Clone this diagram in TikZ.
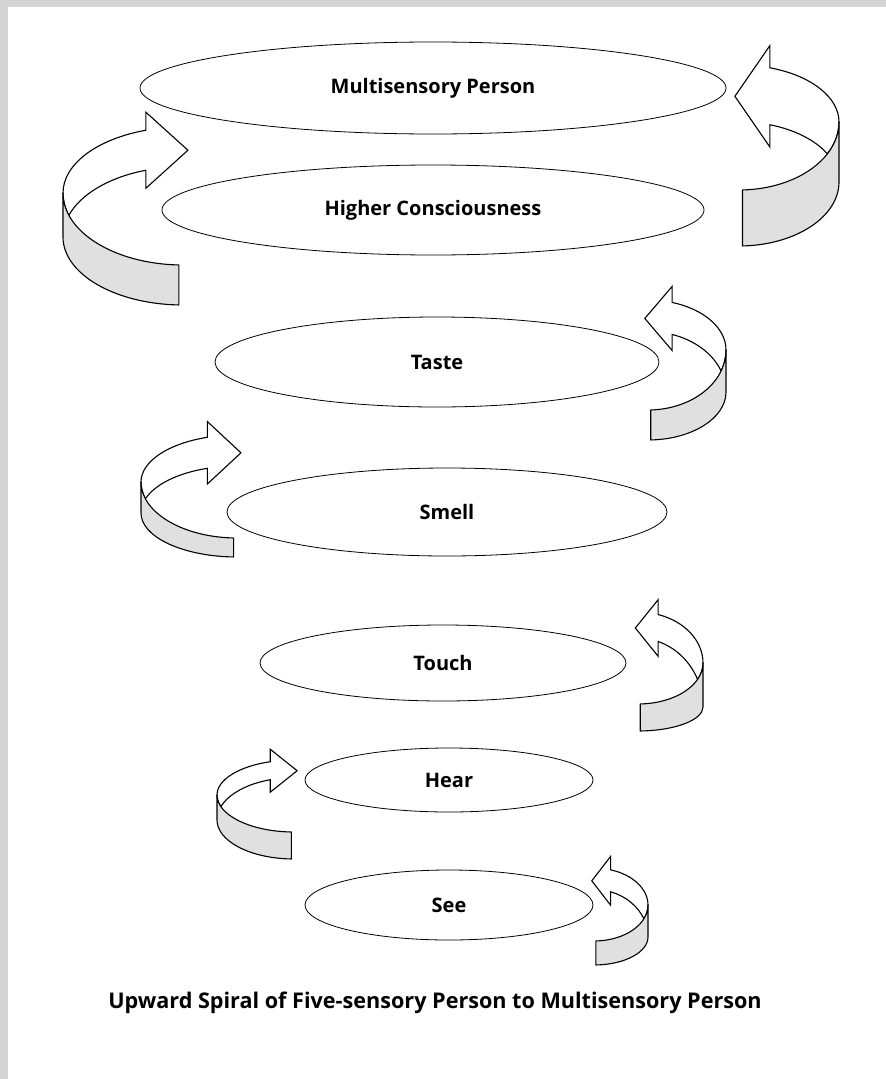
\documentclass[tikz,border=0pt]{standalone}
\usepackage{fontspec}
\setmainfont{Open Sans}
\usepackage{tikz}
\usetikzlibrary{shapes,positioning}
\usepackage{xcolor}

\definecolor{framegray}{RGB}{212,212,212}
\definecolor{bandgray}{RGB}{224,224,224}

% one turn of the spiral: x, y of the outer edge, side, radius, back, front, band, neck, end
\newcommand{\spiralarrow}[9]{%
  \begin{scope}[shift={(#1,#2)}, xscale=#3]
    \pgfmathsetmacro{\spra}{#4}
    \pgfmathsetmacro{\spbk}{#5}
    \pgfmathsetmacro{\spfr}{#6}
    \pgfmathsetmacro{\spbl}{#5+(#7-#8)/sin(108)}
    \pgfmathsetmacro{\spfl}{#6-(#7-#9)}
    \pgfmathsetmacro{\spcut}{180-asin(#7/(#6+\spbl))}
    \pgfmathsetmacro{\spnx}{#4+#4*cos(108)}
    \pgfmathsetmacro{\spnu}{#5*sin(108)}
    \pgfmathsetmacro{\spnl}{\spnu-#8}
    \pgfmathsetmacro{\spbarb}{0.25*#8+8}
    \pgfmathsetmacro{\sptip}{0.35*#4}
    % back of the band and the head
    \draw[bandback] (0,0) arc[start angle=180, end angle=108, x radius=\spra, y radius=\spbk]
      -- (\spnx,\spnu+\spbarb) -- (\spnx+\sptip,{(\spnu+\spnl)/2})
      -- (\spnx,\spnl-\spbarb) -- (\spnx,\spnl)
      arc[start angle=108, end angle=\spcut, x radius=\spra, y radius=\spbl]
      arc[start angle=360-\spcut, end angle=180, x radius=\spra, y radius=\spfr] -- cycle;
    % front of the band
    \draw[bandfront] (0,0) arc[start angle=180, end angle=268, x radius=\spra, y radius=\spfr]
      -- ++(0,-#9) arc[start angle=268, end angle=180, x radius=\spra, y radius=\spfl] -- cycle;
  \end{scope}}

\begin{document}
\begin{tikzpicture}[
    x=1pt, y=1pt,
    level/.style={ellipse, draw, line width=0.8pt, inner sep=0pt,
      font=\bfseries\fontsize{20}{24}\selectfont},
    bandback/.style={draw, fill=white, line width=1.1pt, line join=miter},
    bandfront/.style={draw, fill=bandgray, line width=1.1pt, line join=round}
  ]
  \useasboundingbox (0,0) rectangle (886,-1079);
  \fill[white] (0,0) rectangle (886,-1079);
  \fill[framegray] (0,0) rectangle (886,-7);
  \fill[framegray] (0,0) rectangle (8,-1079);

  % Nodes
  \node[level, minimum width=586, minimum height=92] (multi) at (433,-88) {Multisensory Person};
  \node[level, minimum width=542, minimum height=90] (higher) at (433,-210) {Higher Consciousness};
  \node[level, minimum width=444, minimum height=90] (taste) at (437,-362) {Taste};
  \node[level, minimum width=440, minimum height=88] (smell) at (447,-512) {Smell};
  \node[level, minimum width=366, minimum height=76] (touch) at (443,-663) {Touch};
  \node[level, minimum width=288, minimum height=64] (hear) at (449,-780) {Hear};
  \node[level, minimum width=288, minimum height=70] (see) at (449,-905) {See};
  \node[font=\bfseries\fontsize{21.6}{25}\selectfont] (caption) at (435,-1003)
    {Upward Spiral of Five-sensory Person to Multisensory Person};

  % Arrows
  \spiralarrow{648}{-905}{-1}{54}{37}{36}{32}{22}{24}
  \spiralarrow{217}{-795}{1}{77}{35}{37}{25}{18}{27}
  \spiralarrow{703}{-663}{-1}{65}{51}{41}{44}{27}{27}
  \spiralarrow{141}{-482}{1}{96}{47}{56}{31}{31}{19}
  \spiralarrow{726}{-350}{-1}{78}{50}{60}{42}{32}{30}
  \spiralarrow{63}{-193}{1}{120}{66}{72}{44}{40}{40}
  \spiralarrow{839}{-122}{-1}{100}{57}{68}{60}{57}{56}

\end{tikzpicture}
\end{document}
